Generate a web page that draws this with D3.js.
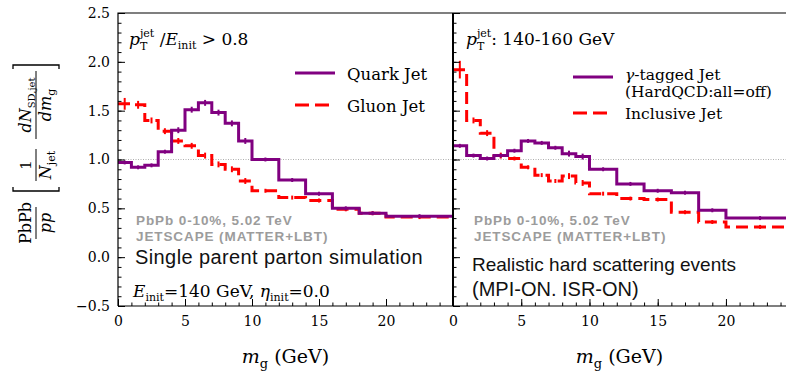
<!DOCTYPE html>
<html>
<head>
<meta charset="utf-8">
<script src="https://cdn.jsdelivr.net/npm/d3@7"></script>
<style>
  body { margin: 0; background: #fff; }
  svg { display: block; }
  text { white-space: pre; }
  .axis path.domain { display: none; }
  .axis line { stroke: #000; stroke-width: 1; }
</style>
</head>
<body>
<svg id="chart" width="786" height="371"></svg>
<script>
// bin edges of m_g (GeV), shared by all histograms
const binEdges = [0, 1, 2, 3, 4, 5, 6, 7, 8, 9, 10, 12, 14, 16, 18, 20, 25];

// left panel: single parent parton
const quarkJet = [0.97, 0.92, 0.94, 1.08, 1.30, 1.51, 1.58, 1.48, 1.37, 1.19, 1.00, 0.79, 0.65, 0.50, 0.45, 0.42];
const quarkErr = [0.01, 0.01, 0.01, 0.01, 0.02, 0.02, 0.02, 0.02, 0.02, 0.02, 0.01, 0.01, 0.01, 0.01, 0.01, 0.01];
const gluonJet = [1.57, 1.56, 1.40, 1.29, 1.19, 1.14, 1.04, 0.95, 0.90, 0.78, 0.68, 0.61, 0.58, 0.49, 0.45, 0.41];
const gluonErr = [0.05, 0.03, 0.02, 0.02, 0.02, 0.02, 0.02, 0.02, 0.02, 0.02, 0.01, 0.01, 0.01, 0.01, 0.01, 0.01];

// right panel: realistic hard scattering
const gammaJet = [1.14, 1.04, 1.01, 1.04, 1.09, 1.19, 1.17, 1.12, 1.06, 1.03, 0.90, 0.75, 0.68, 0.66, 0.48, 0.40];
const gammaErr = [0.01, 0.01, 0.01, 0.01, 0.01, 0.01, 0.01, 0.01, 0.02, 0.02, 0.01, 0.01, 0.01, 0.01, 0.01, 0.01];
const inclJet  = [1.92, 1.40, 1.27, 1.04, 1.01, 0.92, 0.84, 0.78, 0.83, 0.76, 0.65, 0.60, 0.59, 0.46, 0.36, 0.31];
const inclErr  = [0.08, 0.02, 0.02, 0.02, 0.01, 0.01, 0.01, 0.01, 0.02, 0.02, 0.01, 0.01, 0.01, 0.01, 0.01, 0.01];

const yTicks = [-0.5, 0, 0.5, 1, 1.5, 2, 2.5];
const xTicks = [0, 5, 10, 15, 20];

const serif = "'DejaVu Serif', 'Liberation Serif', serif";
const sans = "'Liberation Sans', Arial, sans-serif";
const purple = '#800080';
const red = '#ff0000';

const svg = d3.select('#chart');

const y = d3.scaleLinear().domain([-0.5, 2.5]).range([306, 13]);
const xL = d3.scaleLinear().domain([0, 25]).range([118, 453]);
const xR = d3.scaleLinear().domain([0, 24.4]).range([453, 786]);

// text built from pieces (sub/superscripts); returns the group
function rich(parent, x, yy, parts, anchor) {
  const g = parent.append('g');
  let cx = 0, lastStart = 0;
  parts.forEach(p => {
    const start = p.stack ? lastStart : cx;
    const t = g.append('text')
      .attr('x', start)
      .attr('y', p.dy || 0)
      .attr('font-family', p.font || serif)
      .attr('font-size', p.size)
      .attr('font-style', p.it ? 'italic' : 'normal')
      .attr('font-weight', p.bold ? 'bold' : 'normal')
      .attr('letter-spacing', p.ls || 0)
      .attr('fill', p.color || '#000')
      .text(p.t);
    const w = t.node().getComputedTextLength();
    if (!p.stack) lastStart = start;
    cx = Math.max(cx, start + w);
  });
  const off = anchor === 'middle' ? -cx / 2 : 0;
  g.attr('transform', 'translate(' + (x + off) + ',' + yy + ')');
  return g;
}

function panel(x, id) {
  const x0 = x.range()[0], x1 = x.range()[1];

  svg.append('clipPath').attr('id', id)
    .append('rect').attr('x', x0).attr('y', y(2.5)).attr('width', x1 - x0).attr('height', y(-0.5) - y(2.5));

  // reference line at 1
  svg.append('line')
    .attr('x1', x0).attr('x2', x1).attr('y1', y(1)).attr('y2', y(1))
    .attr('stroke', '#9a9a9a').attr('stroke-width', 0.8).attr('stroke-dasharray', '1,1.5');

  // bottom axis, ticks inward
  svg.append('g').attr('class', 'axis')
    .attr('transform', 'translate(0,' + y(-0.5) + ')')
    .call(d3.axisBottom(x).tickValues(d3.range(0, 25, 1)).tickSize(-3.5).tickFormat(''));
  svg.append('g').attr('class', 'axis')
    .attr('transform', 'translate(0,' + y(-0.5) + ')')
    .call(d3.axisBottom(x).tickValues(xTicks).tickSize(-7).tickPadding(10))
    .selectAll('text').attr('font-family', serif).attr('font-size', 14).attr('fill', '#000');
}

function hist(x, clipId, vals, errs, color, dashed) {
  const pts = binEdges.map((e, i) => [e, vals[Math.min(i, vals.length - 1)]]);
  const line = d3.line().x(d => x(d[0])).y(d => y(d[1])).curve(d3.curveStepAfter);
  const g = svg.append('g').attr('clip-path', 'url(#' + clipId + ')');
  g.append('path')
    .datum(pts)
    .attr('d', line)
    .attr('fill', 'none')
    .attr('stroke', color)
    .attr('stroke-width', 3)
    .attr('stroke-dasharray', dashed ? '12,6' : null);
  g.selectAll('line.err')
    .data(vals)
    .enter()
    .append('line')
    .attr('class', 'err')
    .attr('x1', (d, i) => x((binEdges[i] + binEdges[i + 1]) / 2))
    .attr('x2', (d, i) => x((binEdges[i] + binEdges[i + 1]) / 2))
    .attr('y1', (d, i) => y(d - errs[i]) + 1)
    .attr('y2', (d, i) => y(d + errs[i]) - 1)
    .attr('stroke', color)
    .attr('stroke-width', 2);
}

panel(xL, 'clipL');
panel(xR, 'clipR');

hist(xL, 'clipL', gluonJet, gluonErr, red, true);
hist(xL, 'clipL', quarkJet, quarkErr, purple, false);
hist(xR, 'clipR', inclJet, inclErr, red, true);
hist(xR, 'clipR', gammaJet, gammaErr, purple, false);

// left y axis with labels, ticks inward
svg.append('g').attr('class', 'axis')
  .attr('transform', 'translate(' + xL(0) + ',0)')
  .call(d3.axisLeft(y).tickValues(d3.range(-5, 26, 1).map(d => d / 10)).tickSize(-3.5).tickFormat(''));
svg.append('g').attr('class', 'axis')
  .attr('transform', 'translate(' + xL(0) + ',0)')
  .call(d3.axisLeft(y).tickValues(yTicks).tickSize(-7).tickPadding(8))
  .selectAll('text').attr('font-family', serif).attr('font-size', 14).attr('fill', '#000')
  .text(d => d < 0 ? '\u2212' + Math.abs(d).toFixed(1) : d.toFixed(1));

// right panel y axis ticks (no labels)
svg.append('g').attr('class', 'axis')
  .attr('transform', 'translate(' + xR(0) + ',0)')
  .call(d3.axisRight(y).tickValues(d3.range(-5, 26, 1).map(d => d / 10)).tickSize(3.5).tickFormat(''));
svg.append('g').attr('class', 'axis')
  .attr('transform', 'translate(' + xR(0) + ',0)')
  .call(d3.axisRight(y).tickValues(yTicks).tickSize(7).tickFormat(''));

// frames
svg.append('path')
  .attr('d', 'M' + xL(0) + ',' + y(-0.5) + 'V' + y(2.5) + 'H786M' + xL(0) + ',' + y(-0.5) + 'H786')
  .attr('fill', 'none').attr('stroke', '#000').attr('stroke-width', 1.2);
svg.append('line')
  .attr('x1', xR(0)).attr('x2', xR(0)).attr('y1', y(2.5)).attr('y2', y(-0.5))
  .attr('stroke', '#000').attr('stroke-width', 2);

// legends
function legendRow(x0, yy, color, dashed) {
  svg.append('line')
    .attr('x1', x0).attr('x2', x0 + 40).attr('y1', yy).attr('y2', yy)
    .attr('stroke', color).attr('stroke-width', 3)
    .attr('stroke-dasharray', dashed ? '14,6' : null);
}
legendRow(295, 73, purple, false);
legendRow(295, 105, red, true);
rich(svg, 347, 79.5, [{ t: 'Quark Jet', size: 16.5 }]);
rich(svg, 347, 111.5, [{ t: 'Gluon Jet', size: 16.5 }]);

legendRow(573, 77, purple, false);
legendRow(573, 113, red, true);
rich(svg, 625, 80, [{ t: '\u03b3', size: 15.5, it: true }, { t: '-tagged Jet', size: 15.5 }]);
rich(svg, 625, 97, [{ t: '(HardQCD:all=off)', size: 15.5 }]);
rich(svg, 625, 119, [{ t: 'Inclusive Jet', size: 15.5 }]);

// panel annotations
rich(svg, 129, 45, [
  { t: 'p', size: 17, it: true },
  { t: 'T', size: 11, dy: 5 },
  { t: 'jet', size: 11, dy: -8, stack: true },
  { t: ' /', size: 17 },
  { t: 'E', size: 17, it: true },
  { t: 'init', size: 11, dy: 4 },
  { t: ' > 0.8', size: 17 }
]);
rich(svg, 466, 45, [
  { t: 'p', size: 17, it: true },
  { t: 'T', size: 11, dy: 5 },
  { t: 'jet', size: 11, dy: -8, stack: true },
  { t: ': 140-160 GeV', size: 17 }
]);

const grayText = { size: 13.5, font: sans, bold: true, color: '#9c9c9c', ls: 0.9 };
[136, 474].forEach(x0 => {
  rich(svg, x0, 225, [Object.assign({ t: 'PbPb 0-10%, 5.02 TeV' }, grayText)]);
  rich(svg, x0, 241, [Object.assign({ t: 'JETSCAPE (MATTER+LBT)' }, grayText)]);
});
rich(svg, 135, 264, [{ t: 'Single parent parton simulation', size: 20, ls: 0.4, font: sans, color: '#111' }]);
rich(svg, 472, 271, [{ t: 'Realistic hard scattering events', size: 19, font: sans, color: '#111' }]);
rich(svg, 472, 296, [{ t: '(MPI-ON. ISR-ON)', size: 20, font: sans, color: '#111' }]);
rich(svg, 133, 297, [
  { t: 'E', size: 17, it: true },
  { t: 'init', size: 11, dy: 4 },
  { t: '=140 GeV, ', size: 17 },
  { t: '\u03b7', size: 17, it: true },
  { t: 'init', size: 11, dy: 4 },
  { t: '=0.0', size: 17 }
]);

// x axis titles
[xL, xR].forEach(x => {
  const cx = (x.range()[0] + x.range()[1]) / 2;
  rich(svg, cx, 363, [
    { t: 'm', size: 19, it: true },
    { t: 'g', size: 13, dy: 5 },
    { t: ' (GeV)', size: 19 }
  ], 'middle');
});

// y axis title
const yl = svg.append('g').attr('transform', 'translate(36,153) rotate(-90)');
rich(yl, -70, -5, [{ t: 'PbPb', size: 16 }], 'middle');
yl.append('line').attr('x1', -86).attr('x2', -54).attr('y1', 0).attr('y2', 0).attr('stroke', '#000').attr('stroke-width', 1);
rich(yl, -70, 15, [{ t: 'pp', size: 16, it: true }], 'middle');
yl.append('path').attr('d', 'M-34,-23H-38V23H-34').attr('fill', 'none').attr('stroke', '#000').attr('stroke-width', 1.3);
rich(yl, -12, -5, [{ t: '1', size: 15 }], 'middle');
yl.append('line').attr('x1', -28).attr('x2', 4).attr('y1', 0).attr('y2', 0).attr('stroke', '#000').attr('stroke-width', 1);
rich(yl, -12, 15, [{ t: 'N', size: 16, it: true }, { t: 'jet', size: 11, dy: 4 }], 'middle');
rich(yl, 48, -5, [{ t: 'dN', size: 16, it: true }, { t: 'SD,jet', size: 10, dy: 4 }], 'middle');
yl.append('line').attr('x1', 14).attr('x2', 82).attr('y1', 0).attr('y2', 0).attr('stroke', '#000').attr('stroke-width', 1);
rich(yl, 48, 15, [{ t: 'dm', size: 16, it: true }, { t: 'g', size: 11, dy: 4 }], 'middle');
yl.append('path').attr('d', 'M84,-23H88V23H84').attr('fill', 'none').attr('stroke', '#000').attr('stroke-width', 1.3);
</script>
</body>
</html>
